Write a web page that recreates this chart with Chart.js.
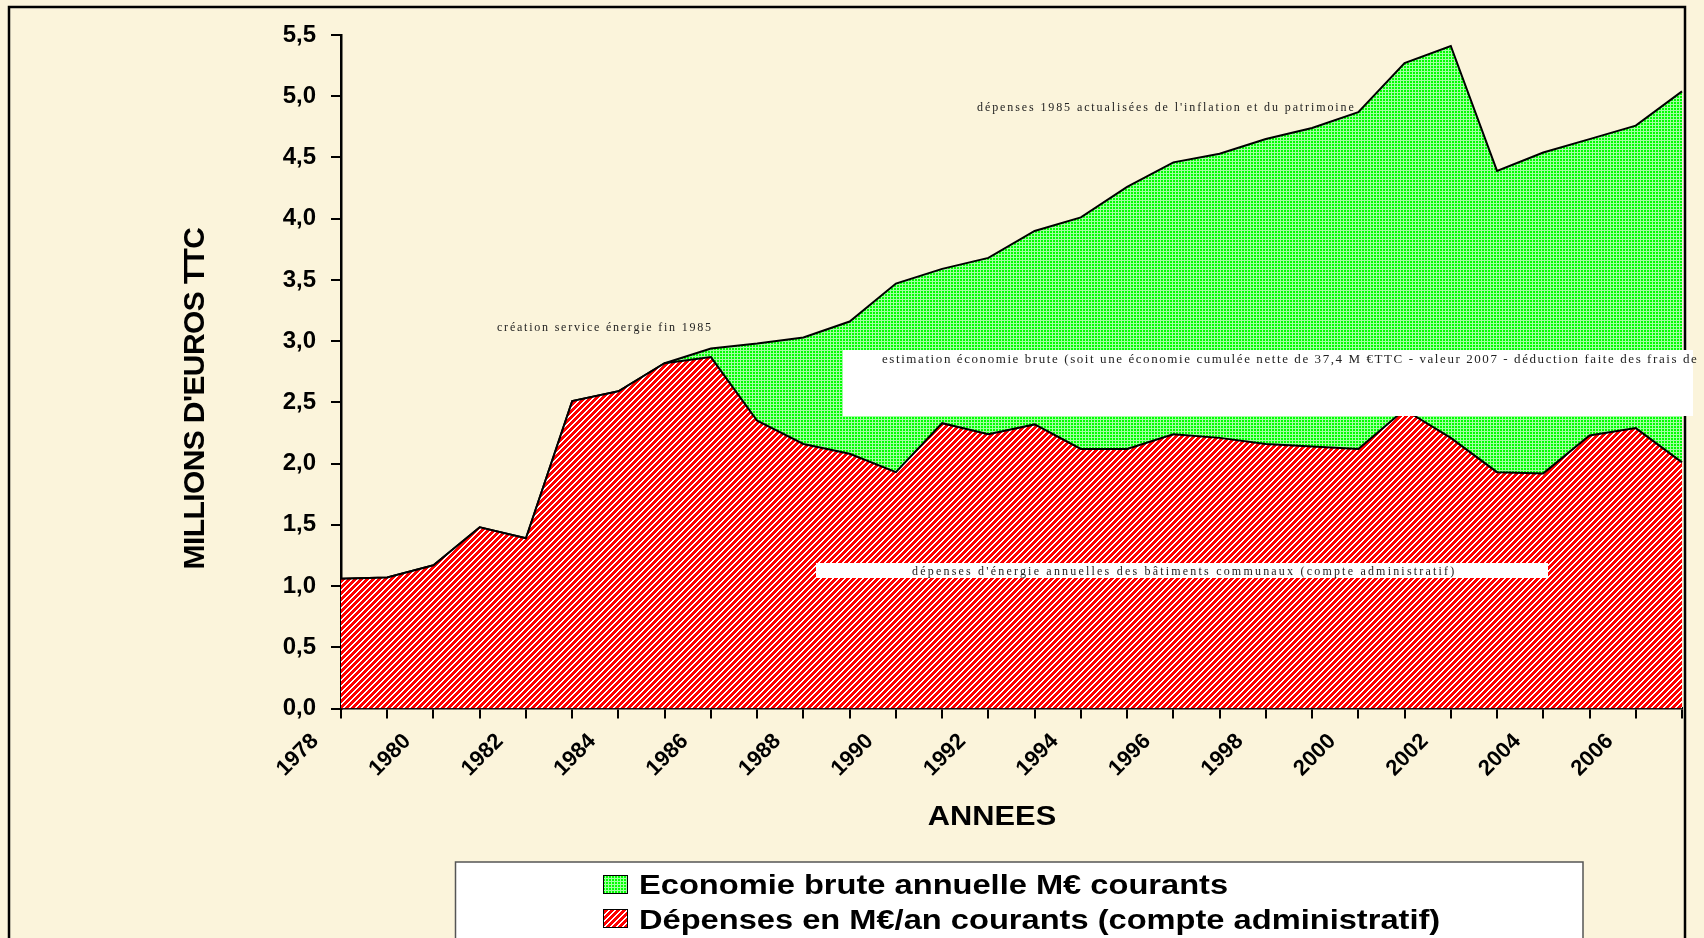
<!DOCTYPE html>
<html>
<head>
<meta charset="utf-8">
<script src="https://cdn.jsdelivr.net/npm/chart.js@4.4.0/dist/chart.umd.min.js"></script>
<style>
html,body{margin:0;padding:0;background:#FBF4DB;overflow:hidden}
canvas{display:block}
</style>
</head>
<body>
<canvas id="c" width="1704" height="938"></canvas>
<script>
// ---- data ----
const years = ['1978','1979','1980','1981','1982','1983','1984','1985','1986','1987','1988','1989','1990','1991','1992','1993','1994','1995','1996','1997','1998','1999','2000','2001','2002','2003','2004','2005','2006','2007'];
const xTickLabels = ['1978','1980','1982','1984','1986','1988','1990','1992','1994','1996','1998','2000','2002','2004','2006'];
const depenses = [1.06,1.07,1.17,1.48,1.39,2.51,2.59,2.82,2.87,2.35,2.16,2.08,1.93,2.33,2.24,2.32,2.12,2.12,2.24,2.21,2.16,2.14,2.12,2.44,2.21,1.93,1.92,2.23,2.29,2.01];
const economie = [0,0,0,0,0,0,0,0,0.07,0.63,0.87,1.08,1.54,1.26,1.44,1.58,1.89,2.14,2.22,2.32,2.49,2.60,2.75,2.83,3.20,2.46,2.62,2.42,2.47,3.03];
const seriesNames = ['Economie brute annuelle M\u20ac courants', 'D\u00e9penses en M\u20ac/an courants (compte administratif)'];
const yTitle = "MILLIONS D'EUROS TTC";
const xTitle = 'ANNEES';
const noteCreation = 'cr\u00e9ation service \u00e9nergie fin 1985';
const noteActualisees = "d\u00e9penses 1985 actualis\u00e9es de l'inflation et du patrimoine";
const noteEstimation = 'estimation \u00e9conomie brute (soit une \u00e9conomie cumul\u00e9e nette de 37,4 M \u20acTTC - valeur 2007 - d\u00e9duction faite des frais de';
const noteDepenses = "d\u00e9penses d'\u00e9nergie annuelles des b\u00e2timents communaux (compte administratif)";

const canvas = document.getElementById('c');
const ctx = canvas.getContext('2d');

function makeHatch() {
  const n = 6;
  const c = document.createElement('canvas'); c.width = n; c.height = n;
  const g = c.getContext('2d'); const img = g.createImageData(n, n);
  for (let j = 0; j < n; j++) for (let i = 0; i < n; i++) {
    const k = (j * n + i) * 4; const w = ((i + j) % n) < 2;
    img.data[k] = 255; img.data[k+1] = w ? 255 : 0; img.data[k+2] = w ? 255 : 0; img.data[k+3] = 255;
  }
  g.putImageData(img, 0, 0);
  return ctx.createPattern(c, 'repeat');
}
function makeGrid() {
  const n = 3;
  const c = document.createElement('canvas'); c.width = n; c.height = n;
  const g = c.getContext('2d'); const img = g.createImageData(n, n);
  for (let j = 0; j < n; j++) for (let i = 0; i < n; i++) {
    const k = (j * n + i) * 4; const line = (i === 2 || j === 2);
    img.data[k] = line ? 160 : 0; img.data[k+1] = 255; img.data[k+2] = line ? 160 : 0; img.data[k+3] = 255;
  }
  g.putImageData(img, 0, 0);
  return ctx.createPattern(c, 'repeat');
}
const hatch = makeHatch();
const gridPat = makeGrid();

function fitText(g, text, x, y, width, font) {
  g.font = font; g.letterSpacing = '0px';
  const w = g.measureText(text).width;
  const ls = (width - w) / Math.max(1, text.length - 1);
  g.letterSpacing = ls.toFixed(2) + 'px';
  g.fillText(text, x, y);
  g.letterSpacing = '0px';
}
function stretchText(g, text, x, y, sx) {
  g.save(); g.translate(x, y); g.scale(sx, 1); g.fillText(text, 0, 0); g.restore();
}

const decor = {
  id: 'decor',
  beforeDraw(chart) {
    const g = chart.ctx;
    g.save();
    g.fillStyle = '#FBF4DB';
    g.fillRect(0, 0, chart.width, chart.height);
    g.restore();
  },
  afterDraw(chart) {
    const g = chart.ctx;
    g.save();
    // outer frame
    g.strokeStyle = '#000'; g.lineWidth = 2.5;
    g.strokeRect(9, 7, 1676, 960);
    // annotations
    g.fillStyle = '#222'; g.textBaseline = 'alphabetic'; g.textAlign = 'left';
    fitText(g, noteCreation, 497, 331, 214, '12px "Liberation Serif"');
    fitText(g, noteActualisees, 977, 111, 377, '12px "Liberation Serif"');
    g.fillStyle = '#fff';
    g.fillRect(843, 350, 850, 66);
    g.fillRect(816, 563, 732, 15);
    g.fillStyle = '#222';
    fitText(g, noteEstimation, 882, 363, 815, '13px "Liberation Serif"');
    fitText(g, noteDepenses, 912, 575, 542, '12px "Liberation Serif"');
    // axis titles
    g.fillStyle = '#000';
    g.font = 'bold 28px "Liberation Sans"';
    g.textAlign = 'center'; g.textBaseline = 'alphabetic';
    stretchText(g, xTitle, 992, 825, 1.1);
    g.save();
    g.translate(196, 398.5); g.rotate(-Math.PI / 2);
    g.font = 'bold 30px "Liberation Sans"'; g.textBaseline = 'middle'; g.letterSpacing = '-0.6px';
    g.fillText(yTitle, 0, 0);
    g.restore();
    // legend
    g.fillStyle = '#fff'; g.fillRect(455.5, 862, 1127.5, 90);
    g.strokeStyle = '#555'; g.lineWidth = 1.5; g.strokeRect(455.5, 862, 1127.5, 90);
    const boxes = [[gridPat, 875, 894], [hatch, 909, 929]];
    g.font = 'bold 28px "Liberation Sans"'; g.textAlign = 'left'; g.textBaseline = 'alphabetic';
    for (let i = 0; i < 2; i++) {
      const [pat, top, base] = boxes[i];
      g.fillStyle = pat; g.fillRect(603, top, 25, 19);
      g.strokeStyle = '#000'; g.lineWidth = 1; g.strokeRect(603.5, top + 0.5, 24, 18);
      g.fillStyle = '#000'; stretchText(g, seriesNames[i], 639, base, 1.165);
    }
    g.restore();
  }
};

const yTickFont = { family: '"Liberation Sans"', weight: 'bold', size: 24 };
const xTickFont = { family: '"Liberation Sans"', weight: 'bold', size: 22 };

new Chart(ctx, {
  type: 'line',
  data: {
    labels: years,
    datasets: [
      { label: seriesNames[1], data: depenses, fill: 'origin', backgroundColor: hatch, borderColor: '#000', borderWidth: 2, pointRadius: 0, tension: 0 },
      { label: seriesNames[0], data: economie, fill: '-1', backgroundColor: gridPat, borderColor: '#000', borderWidth: 2, pointRadius: 0, tension: 0 }
    ]
  },
  options: {
    responsive: false,
    animation: false,
    devicePixelRatio: 1,
    layout: { padding: { left: 0, right: 22, top: 35, bottom: 0 } },
    plugins: { legend: { display: false }, tooltip: { enabled: false } },
    scales: {
      x: {
        type: 'category',
        offset: false,
        grid: { display: true, drawOnChartArea: false, drawTicks: true, tickLength: 10, color: '#000', lineWidth: 2 },
        border: { display: true, color: '#000', width: 2.5 },
        ticks: {
          autoSkip: false, maxRotation: 45, minRotation: 45, color: '#000', font: xTickFont, padding: 10, labelOffset: -26,
          callback: (v, i) => xTickLabels.includes(years[i]) ? years[i] : ''
        },
        afterFit: s => { s.height = 229.5; s.paddingLeft = 0; s.paddingRight = 0; }
      },
      y: {
        stacked: true, min: 0, max: 5.5,
        grid: { display: true, drawOnChartArea: false, drawTicks: true, tickLength: 10, color: '#000', lineWidth: 2 },
        border: { display: true, color: '#000', width: 2.5 },
        ticks: { stepSize: 0.5, color: '#000', font: yTickFont, padding: 15, callback: v => Number(v).toFixed(1).replace('.', ',') },
        afterFit: s => { s.width = 341; }
      }
    }
  },
  plugins: [decor]
});
</script>
</body>
</html>
